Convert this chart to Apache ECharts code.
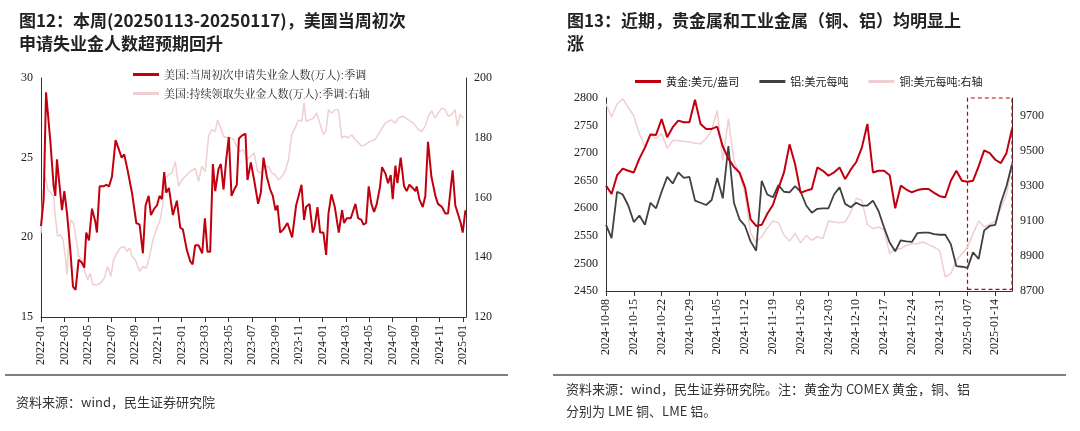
<!DOCTYPE html>
<html><head><meta charset="utf-8">
<script src="https://cdn.jsdelivr.net/npm/echarts@6/dist/echarts.min.js"></script>
<style>html,body{margin:0;padding:0;background:#fff}#c{width:1080px;height:431px}</style>
</head><body><div id="c"></div>
<script>
// ---- Left chart data (time in months since 2022-01) ----
const monthLabels = [];
for (let y = 2022; y <= 2025; y++) for (let m = 1; m <= 12; m++) monthLabels.push(y + '-' + String(m).padStart(2, '0'));
const claimsT = [0,0.23,0.43,0.8,1.08,1.22,1.36,1.59,1.79,1.99,2.22,2.5,2.73,2.95,3.21,3.49,3.69,3.86,4.09,4.35,4.63,4.77,5,5.34,5.57,5.8,6.05,6.36,6.65,6.88,7.1,7.39,7.76,8.13,8.41,8.69,8.92,9.18,9.38,9.66,9.89,10.11,10.31,10.51,10.68,10.91,11.25,11.59,11.88,12.1,12.44,12.73,12.93,13.15,13.44,13.75,13.98,14.2,14.43,14.66,14.86,15.14,15.34,15.57,15.8,16.02,16.25,16.48,16.7,16.88,17.16,17.44,17.61,17.9,18.18,18.52,18.75,18.98,19.26,19.55,19.77,20,20.17,20.4,20.68,21.02,21.19,21.42,21.59,21.76,21.93,22.22,22.44,22.61,22.9,23.18,23.35,23.58,23.81,24.09,24.32,24.52,24.77,25.06,25.4,25.68,25.85,26.08,26.42,26.59,26.82,27.05,27.33,27.5,27.73,27.95,28.18,28.41,28.64,28.92,29.09,29.38,29.6,29.83,30,30.23,30.4,30.68,30.97,31.19,31.42,31.7,31.93,32.05,32.27,32.56,32.78,33.01,33.3,33.64,33.86,34.2,34.49,34.72,34.89,35.11,35.34,35.51,35.8,35.97,36.2];
const claimsV = [20.7,22.4,29.1,26,23.2,22.6,24.9,23.2,21.7,22.9,21.5,19.2,16.9,16.7,18.6,18.4,18.1,20.3,19.8,21.8,21,20.3,23.2,23.2,23.3,23.2,23.8,26.1,25.5,25,25.2,24.2,22.8,20.9,20.8,19,22,22.6,21.4,21.8,22,22.6,22.4,24.1,22.8,23.1,21.4,22.3,20.6,20.5,19.2,18.5,18.3,19.5,19.5,19,21.2,19.1,19.1,24.6,22.9,24.3,24.6,23,24.9,26.3,22.6,23,23.3,26.2,26.4,26.5,23.6,24.7,23.6,22.1,22.8,25,23.8,23,22.6,21.7,22,20.3,20.5,20.9,21,20,20,22,21.9,23.3,21.1,21.9,22.1,20.3,20.7,21.9,20.3,20.3,18.9,21.5,22.7,21.9,20.3,21.7,20.9,21.2,21.2,21.2,22.1,21.2,21.1,20.8,20.9,23.2,22.1,21.6,22.1,23.2,24.4,24,23.4,23.9,22.4,24.5,23.4,25,23.2,22.9,23.3,23.1,22.9,23.2,22.4,21.9,22.6,26,23.8,22.6,22.1,21.9,21.5,21.5,22.7,24.2,22,21.9,20.9,20.3,21.7];
const contT = [0,0.17,0.37,0.57,0.85,1.08,1.22,1.42,1.65,1.88,2.07,2.22,2.39,2.56,2.78,3.01,3.21,3.49,3.78,3.98,4.2,4.43,4.77,5.06,5.4,5.68,5.97,6.19,6.48,6.76,7.1,7.33,7.56,7.76,8.04,8.41,8.69,8.98,9.26,9.55,9.89,10.17,10.4,10.6,10.88,11.16,11.45,11.73,12.02,12.3,12.73,13.15,13.44,13.72,14.01,14.29,14.57,14.86,15.06,15.28,15.57,15.85,16.14,16.42,16.7,16.99,17.27,17.56,17.9,18.18,18.47,18.75,19.12,19.4,19.69,19.97,20.26,20.54,20.82,21.11,21.39,21.68,21.96,22.24,22.44,22.61,22.95,23.24,23.52,23.81,24.09,24.32,24.52,24.8,25.09,25.37,25.51,25.65,25.94,26.22,26.51,26.79,27.07,27.36,27.64,28.07,28.49,28.92,29.35,29.63,29.91,30.2,30.48,30.91,31.34,31.76,32.19,32.47,32.76,33.04,33.32,33.61,33.89,34.18,34.46,34.74,35.03,35.31,35.51,35.74,36.02];
const contV = [148.1,161.5,167,162.7,161.5,160.4,153.7,147,147.6,145.9,140.3,134.2,148,152.5,151.4,145.9,140.3,139.2,134.7,132.5,134.7,130.8,130.8,131.3,133,136.9,133.6,139.2,141.4,143.1,143.6,141.9,143.1,140.3,139.2,135.3,136.9,136.4,140.3,145.9,149.8,152.6,158.2,166.5,167.6,168.2,172.1,163.7,165.9,167,168.7,169.8,165.4,170.4,168.7,180.5,182.7,182.1,186,183.8,180.5,180,180,179.4,177.1,175.4,176,172.7,173.8,174.9,168.7,168.2,170.4,170.4,168.2,167.6,165.9,167,168.7,172.7,181.1,183.3,186,185.5,191.6,185.5,186,186.6,188.3,184.4,181,182.7,189.4,188.3,189.4,189.4,184.9,180,180.5,180,181,179.4,178.3,177.2,177.7,178.8,179.4,182.1,184.9,185.5,186,184.9,186.6,187.2,186,184.9,182.7,182.1,183.8,187.2,189,186.6,188.3,190,189.4,187.2,187.8,189.4,183.8,187.8,186.6];

// ---- Right chart data (trading days 2024-10-08 .. 2025-01-17) ----
const metalDates = [];
(function(){ let d = new Date(Date.UTC(2024,9,8)); const end = Date.UTC(2025,0,17);
  while (d.getTime() <= end) { const w = d.getUTCDay(); if (w>0 && w<6) metalDates.push(d.toISOString().slice(0,10)); d = new Date(d.getTime()+86400000); } })();
const gold = [2641,2626,2660,2672,2668,2665,2690,2710,2734,2733,2762,2729,2747,2759,2756,2756,2797,2753,2744,2744,2748,2712,2690,2675,2665,2638,2580,2568,2570,2590,2606,2636,2665,2716,2680,2628,2632,2635,2674,2668,2659,2665,2674,2653,2670,2684,2710,2753,2665,2668,2668,2660,2600,2641,2634,2629,2633,2635,2635,2628,2622,2620,2650,2668,2650,2648,2650,2676,2705,2700,2688,2682,2700,2744];
const aluminum = [2570,2546,2630,2625,2605,2575,2587,2570,2610,2600,2630,2657,2645,2665,2655,2657,2614,2610,2606,2615,2655,2618,2713,2610,2580,2568,2540,2523,2650,2625,2620,2642,2630,2629,2640,2630,2605,2592,2599,2600,2600,2625,2638,2608,2602,2610,2605,2605,2614,2595,2565,2538,2522,2542,2540,2539,2555,2556,2556,2553,2552,2552,2535,2495,2494,2492,2520,2508,2560,2568,2570,2610,2640,2680];
const copper = [9770,9694,9770,9799,9750,9700,9600,9523,9600,9570,9600,9515,9560,9560,9555,9551,9545,9541,9570,9620,9732,9447,9685,9447,9370,9256,9030,8980,9010,9060,9100,9090,9020,8985,9030,8975,9018,8990,9010,9000,9100,9094,9090,9094,9150,9230,9218,9080,9056,9066,9050,8913,8942,8942,8960,8970,8970,8980,8965,8950,8932,8780,8799,8875,8913,8950,9028,9100,9066,9080,9100,9175,9250,9430];

const serif = 'Liberation Serif';
const cjk = 'Noto Sans CJK SC';
const RED = '#c0000f', PINK = '#efcfd1', DARK = '#404040';
const lbl = {fontFamily: serif, fontSize: 12, color: '#222', formatter: v => String(v)};
const axLine = {lineStyle: {color: '#333', width: 1}};

const chart = echarts.init(document.getElementById('c'));
chart.setOption({
  animation: false,
  title: [
    {text: '图12：本周(20250113-20250117)，美国当周初次\n申请失业金人数超预期回升', left: 14, top: 4,
     textStyle: {fontFamily: cjk, fontSize: 17, fontWeight: 'bold', color: '#222', lineHeight: 23}},
    {text: '图13：近期，贵金属和工业金属（铜、铝）均明显上\n涨', left: 562, top: 4,
     textStyle: {fontFamily: cjk, fontSize: 17, fontWeight: 'bold', color: '#222', lineHeight: 23}}
  ],
  graphic: [
    {type: 'line', shape: {x1: 5, y1: 375, x2: 508, y2: 375}, style: {stroke: '#555', lineWidth: 1.5}},
    {type: 'line', shape: {x1: 553, y1: 375, x2: 1066, y2: 375}, style: {stroke: '#555', lineWidth: 1.5}},
    {type: 'text', left: 16, top: 396, style: {text: '资料来源：wind，民生证券研究院', font: '13px "Noto Sans CJK SC"', fill: '#333'}},
    {type: 'text', left: 566, top: 383, style: {text: '资料来源：wind，民生证券研究院。注：黄金为 COMEX 黄金，铜、铝', font: '13px "Noto Sans CJK SC"', fill: '#333'}},
    {type: 'text', left: 566, top: 405, style: {text: '分别为 LME 铜、LME 铝。', font: '13px "Noto Sans CJK SC"', fill: '#333'}}
  ],
  legend: [
    {orient: 'vertical', left: 128, top: 64, itemGap: 8, itemWidth: 26, itemHeight: 3, icon: 'rect',
     textStyle: {fontFamily: 'Noto Serif CJK SC, Noto Sans CJK SC', fontSize: 11, color: '#222'},
     data: ['美国:当周初次申请失业金人数(万人):季调', '美国:持续领取失业金人数(万人):季调:右轴']},
    {orient: 'horizontal', left: 630, top: 71, itemGap: 20, itemWidth: 26, itemHeight: 3, icon: 'rect',
     textStyle: {fontFamily: 'Noto Sans CJK SC', fontSize: 11, color: '#222'},
     data: ['黄金:美元/盎司', '铝:美元每吨', '铜:美元每吨:右轴']}
  ],
  grid: [
    {left: 41, top: 78, width: 425, height: 239},
    {left: 606, top: 98, width: 406, height: 193}
  ],
  xAxis: [
    {type: 'value', gridIndex: 0, min: 0, max: 36.25, interval: 2, splitLine: {show: false},
     axisLine: axLine, axisTick: {show: true, lineStyle: {color: '#333'}},
     axisLabel: Object.assign({}, lbl, {rotate: 90, showMaxLabel: false, formatter: v => monthLabels[Math.round(v)]})},
    {type: 'category', gridIndex: 1, data: metalDates, boundaryGap: false,
     axisLine: axLine, axisTick: {interval: 4, lineStyle: {color: '#333'}},
     axisLabel: Object.assign({}, lbl, {rotate: 90, interval: 4, formatter: v => v})}
  ],
  yAxis: [
    {type: 'value', gridIndex: 0, min: 15, max: 30, interval: 5, splitLine: {show: false}, axisLine: Object.assign({show: true}, axLine), axisTick: {show: false}, axisLabel: lbl},
    {type: 'value', gridIndex: 0, min: 120, max: 200, interval: 20, position: 'right', splitLine: {show: false}, axisLine: Object.assign({show: true}, axLine), axisTick: {show: false}, axisLabel: lbl},
    {type: 'value', gridIndex: 1, min: 2450, max: 2800, interval: 50, splitLine: {show: false}, axisLine: Object.assign({show: true}, axLine), axisTick: {show: false}, axisLabel: lbl},
    {type: 'value', gridIndex: 1, min: 8700, max: 9803, interval: 200, position: 'right', splitLine: {show: false}, axisLine: Object.assign({show: true}, axLine), axisTick: {show: false}, axisLabel: Object.assign({}, lbl, {showMaxLabel: false})}
  ],
  series: [
    {name: '美国:持续领取失业金人数(万人):季调:右轴', type: 'line', xAxisIndex: 0, yAxisIndex: 1, showSymbol: false,
     lineStyle: {color: PINK, width: 1.5}, itemStyle: {color: PINK}, data: contT.map((t, i) => [t, contV[i]])},
    {name: '美国:当周初次申请失业金人数(万人):季调', type: 'line', xAxisIndex: 0, yAxisIndex: 0, showSymbol: false,
     lineStyle: {color: RED, width: 2}, itemStyle: {color: RED}, data: claimsT.map((t, i) => [t, claimsV[i]])},
    {name: '铜:美元每吨:右轴', type: 'line', xAxisIndex: 1, yAxisIndex: 3, showSymbol: false,
     lineStyle: {color: PINK, width: 1.5}, itemStyle: {color: PINK}, data: copper},
    {name: '铝:美元每吨', type: 'line', xAxisIndex: 1, yAxisIndex: 2, showSymbol: false,
     lineStyle: {color: DARK, width: 1.8}, itemStyle: {color: DARK}, data: aluminum},
    {name: '黄金:美元/盎司', type: 'line', xAxisIndex: 1, yAxisIndex: 2, showSymbol: false,
     lineStyle: {color: RED, width: 2}, itemStyle: {color: RED}, data: gold,
     markArea: {silent: true, itemStyle: {color: 'rgba(0,0,0,0)', borderColor: '#c0000f', borderWidth: 1.2, borderType: [4, 3]},
       data: [[{xAxis: '2025-01-07', yAxis: 2453}, {xAxis: '2025-01-17', yAxis: 2800}]]}}
  ]
});
</script></body></html>
